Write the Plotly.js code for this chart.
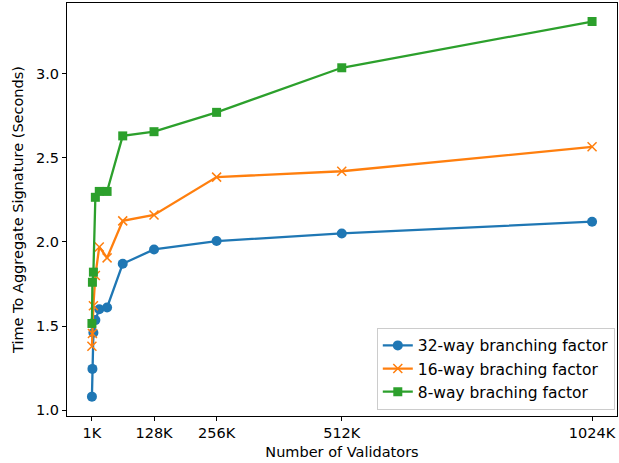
<!DOCTYPE html>
<html>
<head>
<meta charset="utf-8">
<script src="https://cdn.plot.ly/plotly-3.0.1.min.js"></script>
<style>html,body{margin:0;padding:0;background:#fff;}</style>
</head>
<body>
<div id="chart" style="width:619px;height:463px;"></div>
<script>
const validatorsK = [1, 2, 4, 8, 16, 32, 64, 128, 256, 512, 1024];
const way32 = [1.08, 1.245, 1.46, 1.535, 1.60, 1.61, 1.87, 1.955, 2.005, 2.05, 2.12];
const way16 = [1.38, 1.455, 1.62, 1.80, 1.97, 1.905, 2.125, 2.16, 2.385, 2.42, 2.565];
const way8  = [1.515, 1.76, 1.82, 2.265, 2.30, 2.30, 2.63, 2.655, 2.77, 3.035, 3.31];
const tickVals = [1, 128, 256, 512, 1024];
const tickText = ["1K", "128K", "256K", "512K", "1024K"];
const names = ["32-way branching factor", "16-way braching factor", "8-way braching factor"];

const colors = ["#1f77b4", "#ff7f0e", "#2ca02c"];
const traces = [
  {x: validatorsK, y: way32, name: names[0], mode: "lines+markers",
   line: {color: colors[0], width: 2.3}, marker: {symbol: "circle", size: 10, color: colors[0]}},
  {x: validatorsK, y: way16, name: names[1], mode: "lines+markers",
   line: {color: colors[1], width: 2.3}, marker: {symbol: "x-thin", size: 9, color: colors[1], line: {color: colors[1], width: 1.5}}},
  {x: validatorsK, y: way8, name: names[2], mode: "lines+markers",
   line: {color: colors[2], width: 2.3}, marker: {symbol: "square", size: 9, color: colors[2]}}
];

const FS = 14.5;
const axisCommon = {
  showline: true, mirror: true, linecolor: "#000", linewidth: 1,
  ticks: "outside", ticklen: 4, tickcolor: "#000", showgrid: false, zeroline: false,
  tickfont: {family: "DejaVu Sans", size: FS, color: "#000"}
};

const layout = {
  width: 619, height: 463,
  margin: {l: 67, r: 2, t: 3, b: 47},
  paper_bgcolor: "#fff", plot_bgcolor: "#fff",
  font: {family: "DejaVu Sans", size: FS, color: "#000"},
  xaxis: Object.assign({}, axisCommon, {
    range: [-50, 1075], tickvals: tickVals, ticktext: tickText,
    title: {text: "Number of Validators", font: {family: "DejaVu Sans", size: FS}, standoff: 6}
  }),
  yaxis: Object.assign({}, axisCommon, {
    range: [0.965, 3.42], tickvals: [1.0, 1.5, 2.0, 2.5, 3.0], ticktext: ["1.0", "1.5", "2.0", "2.5", "3.0"],
    title: {text: "Time To Aggregate Signature (Seconds)", font: {family: "DejaVu Sans", size: FS}, standoff: 8}
  }),
  legend: {
    x: 0.996, y: 0.015, xanchor: "right", yanchor: "bottom",
    bordercolor: "#cccccc", borderwidth: 1, bgcolor: "rgba(255,255,255,0.9)",
    font: {family: "DejaVu Sans", size: 15.5, color: "#000"}, tracegroupgap: 0
  },
  showlegend: true
};

Plotly.newPlot("chart", traces, layout, {displayModeBar: false, staticPlot: true});
</script>
</body>
</html>
